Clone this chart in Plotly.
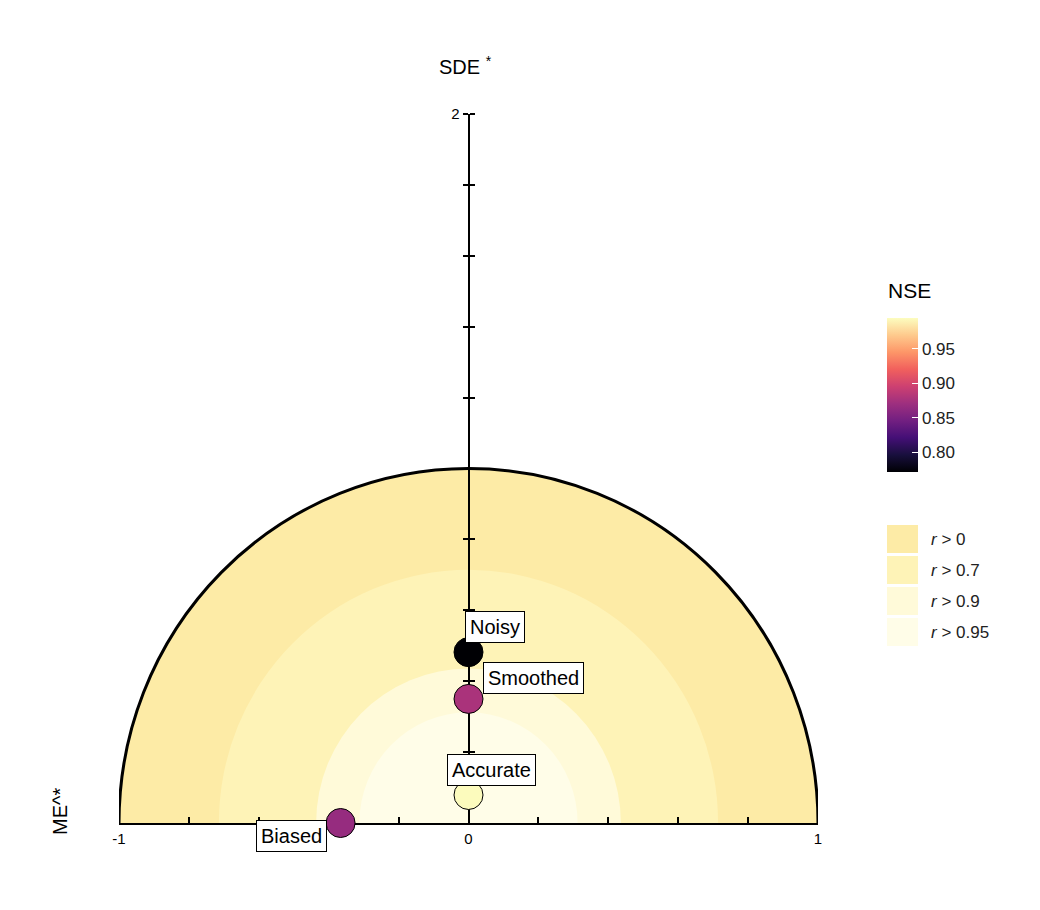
import plotly.graph_objects as go

# models: normalised mean error, normalised error sd, Nash-Sutcliffe efficiency
models = ["Noisy", "Smoothed", "Accurate", "Biased"]
me_star = [0.0, 0.0, 0.0, -0.366]
sde_star = [0.482, 0.35, 0.079, 0.0]
nse = [0.771, 0.877, 0.994, 0.866]

# label offsets from the point, in pixels (repelled labels)
label_dx = [26, 65, 23, -49]
label_dy = [25, 21, 25, -13]

# correlation bands
r_levels = [0, 0.7, 0.9, 0.95]
r_labels = ["r > 0", "r > 0.7", "r > 0.9", "r > 0.95"]
band_colors = ["#FDEBA6", "#FEF3B7", "#FFFAD9", "#FFFDE8"]

x_major = [-1, 0, 1]
x_minor = [-0.8, -0.6, -0.4, -0.2, 0.2, 0.4, 0.6, 0.8]
y_major = [2]
y_minor = [0.2, 0.4, 0.6, 0.8, 1.0, 1.2, 1.4, 1.6, 1.8]
nse_ticks = [0.80, 0.85, 0.90, 0.95]

W, H = 1040, 910
OFF = 8  # page body margin
L, R, T, B = 119 - OFF, W - 818 + OFF, 114 - OFF, H - 823 + OFF
FONT = "Liberation Sans, Arial, sans-serif"


def px2x(px):
    return (px - OFF - L) / (W - L - R)


def px2y(py):
    return (H - B - (py - OFF)) / (H - T - B)


fig = go.Figure()

# bands as clipped circles (radius = sqrt(1 - r^2))
for i, (r, c) in enumerate(zip(r_levels, band_colors)):
    rad = (1 - r ** 2) ** 0.5
    fig.add_shape(type="circle", xref="x", yref="y",
                  x0=-rad, x1=rad, y0=-rad, y1=rad,
                  fillcolor=c, layer="below",
                  line=dict(color="black", width=3 if i == 0 else 0))

# invisible copy on the overlaid axis so its right-hand ticks get drawn
fig.add_trace(go.Scatter(x=me_star, y=sde_star, yaxis="y2", mode="markers",
                         marker=dict(opacity=0), showlegend=False,
                         hoverinfo="skip"))

fig.add_trace(go.Scatter(
    x=me_star, y=sde_star, mode="markers", cliponaxis=False,
    marker=dict(size=29, color=nse, colorscale="Magma", cmin=0.771, cmax=0.995,
                line=dict(color="black", width=1),
                showscale=True,
                colorbar=dict(x=px2x(887), xanchor="left", xpad=0,
                              y=px2y(472), yanchor="bottom", ypad=0,
                              len=154, lenmode="pixels", thickness=31,
                              outlinewidth=0, ticks="inside", ticklen=6,
                              tickcolor="white", tickvals=nse_ticks,
                              ticktext=["%.2f" % v for v in nse_ticks],
                              tickfont=dict(size=17, color="#222"))),
    showlegend=False, hoverinfo="skip"))

for m, x, y, dx, dy in zip(models, me_star, sde_star, label_dx, label_dy):
    fig.add_annotation(x=x, y=y, xref="x", yref="y", text=m, showarrow=False,
                       xshift=dx, yshift=dy, bgcolor="white",
                       bordercolor="black", borderwidth=1, borderpad=4,
                       font=dict(size=20, color="black"))

fig.add_annotation(xref="paper", yref="paper", x=px2x(886), y=px2y(290),
                   xanchor="left", yanchor="middle", text="NSE",
                   showarrow=False, font=dict(size=21, color="black"))

# manual legend for the r bands
for i, (lab, c) in enumerate(zip(r_labels, band_colors)):
    cy = 539 + 31 * i
    fig.add_shape(type="rect", xref="paper", yref="paper",
                  x0=px2x(887), x1=px2x(918), y0=px2y(cy + 14), y1=px2y(cy - 14),
                  fillcolor=c, line=dict(width=0))
    fig.add_annotation(xref="paper", yref="paper", x=px2x(929), y=px2y(cy),
                       xanchor="left", yanchor="middle", showarrow=False,
                       text="<i>r</i>" + lab[1:], font=dict(size=17, color="#222"))

fig.add_annotation(xref="paper", yref="paper", x=px2x(465), y=px2y(65),
                   xanchor="center", yanchor="middle",
                   text="SDE <sup>*</sup>", showarrow=False,
                   font=dict(size=20, color="black"))
fig.add_annotation(xref="paper", yref="paper", x=px2x(60), y=px2y(812),
                   xanchor="center", yanchor="middle",
                   text="ME^*", textangle=-90, showarrow=False,
                   font=dict(size=20, color="black"))

tick_style = dict(ticklen=5, tickwidth=1.5, tickcolor="black")

fig.update_layout(
    width=W, height=H,
    margin=dict(l=L, r=R, t=T, b=B),
    paper_bgcolor="white", plot_bgcolor="white",
    font=dict(family=FONT, color="black"),
    xaxis=dict(range=[-1, 1], showgrid=False, zeroline=False,
               showline=True, linecolor="black", linewidth=2,
               ticks="inside", ticklen=6, tickwidth=1.5, tickcolor="black",
               tickvals=x_major, ticktext=[str(v) for v in x_major],
               minor=dict(tickvals=x_minor, ticks="inside", ticklen=6,
                          tickwidth=1.5, tickcolor="black", showgrid=False),
               ticklabelstandoff=1,
               tickfont=dict(size=15, color="black"), layer="below traces"),
    yaxis=dict(range=[0, 2], showgrid=False, zeroline=False,
               anchor="free", position=0.5,
               showline=True, linecolor="black", linewidth=2,
               ticks="outside", **tick_style,
               tickvals=y_major, ticktext=[str(v) for v in y_major],
               minor=dict(tickvals=y_minor, ticks="outside", showgrid=False,
                          **tick_style),
               ticklabelstandoff=0,
               tickfont=dict(size=15, color="black"), layer="below traces"),
    yaxis2=dict(range=[0, 2], overlaying="y", anchor="free", position=0.5,
                side="right", showgrid=False, zeroline=False, showline=False,
                ticks="outside", **tick_style,
                tickvals=y_minor + y_major, showticklabels=False,
                layer="below traces"),
)

fig.write_html("out.html")
